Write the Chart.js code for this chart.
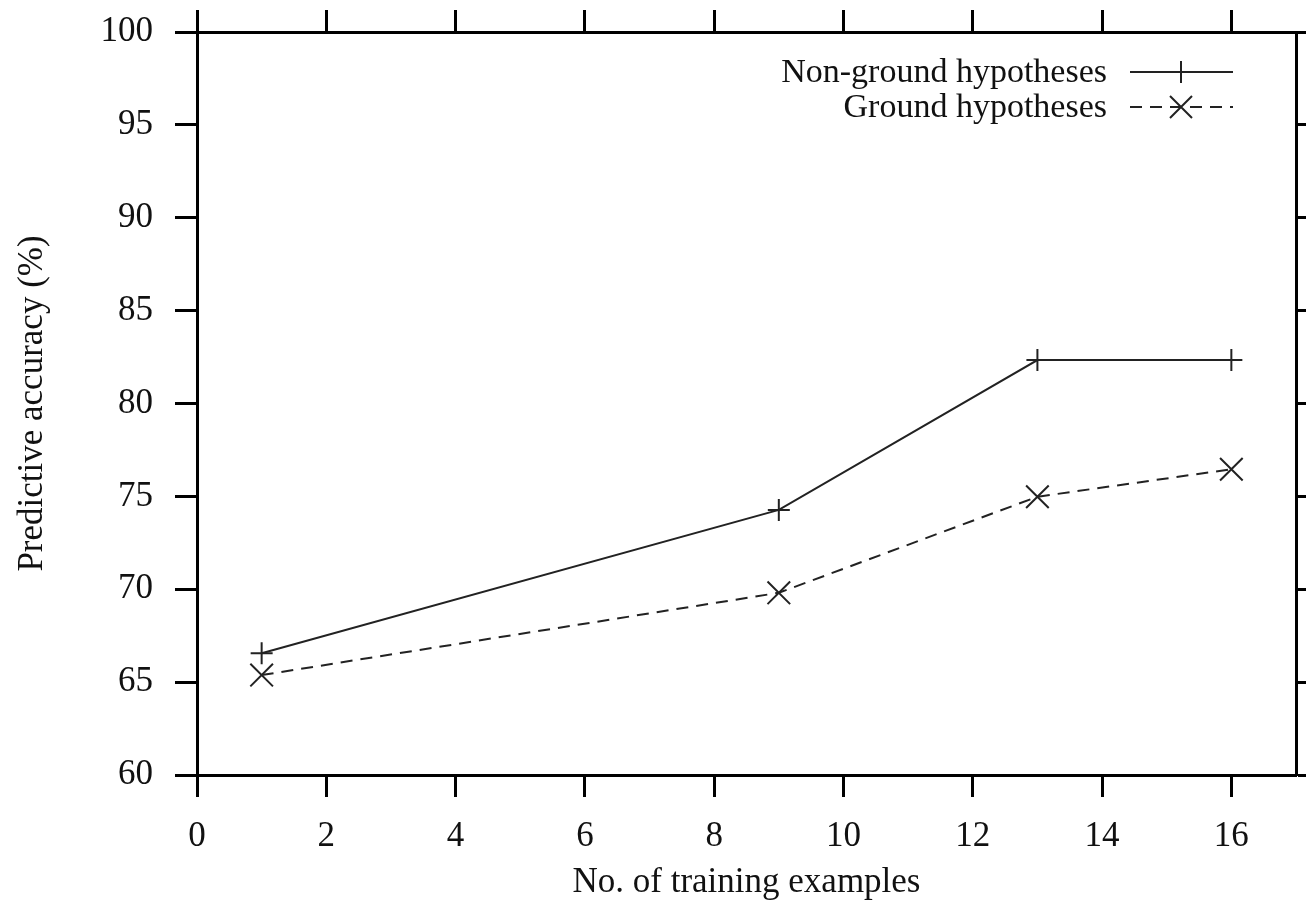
<!DOCTYPE html>
<html>
<head>
<meta charset="utf-8">
<script src="https://cdn.jsdelivr.net/npm/chart.js@4/dist/chart.umd.min.js"></script>
<style>
  html, body { margin: 0; padding: 0; background: #fff; }
  #wrap { width: 1306px; height: 908px; position: relative; }
</style>
</head>
<body>
<div id="wrap"><canvas id="accChart"></canvas></div>
<script>
// data
const trainingExamples = [1, 9, 13, 16];
const nonGroundAcc = [66.55, 74.27, 82.34, 82.34];
const groundAcc = [65.38, 69.81, 74.98, 76.46];
const seriesNames = ["Non-ground hypotheses", "Ground hypotheses"];
const xTicks = [0, 2, 4, 6, 8, 10, 12, 14, 16];
const yTicks = [60, 65, 70, 75, 80, 85, 90, 95, 100];

const FONT = "'Liberation Serif', 'DejaVu Serif', serif";
const INK = "#111";
const LINE = "#222";

function pts(xs, ys) {
  return xs.map((x, i) => ({ x: x, y: ys[i] }));
}

function fixTicks(list) {
  return function (scale) {
    scale.ticks = list.map(v => ({ value: v }));
  };
}

// pin the box size and drop the label overhang padding
function fixSize(w, h) {
  return function (scale) {
    if (w != null) scale.width = w;
    if (h != null) scale.height = h;
    scale.paddingTop = 0;
    scale.paddingBottom = 0;
    scale.paddingLeft = 0;
    scale.paddingRight = 0;
  };
}

// gnuplot style legend: text on the left, sample on the right
const sideLegend = {
  id: "sideLegend",
  afterDraw(chart) {
    const ctx = chart.ctx;
    const textRight = 1107, lineL = 1130, lineR = 1233, mid = 1181;
    const rows = [72, 107];
    ctx.save();
    ctx.font = "34px " + FONT;
    ctx.fillStyle = INK;
    ctx.textAlign = "right";
    ctx.textBaseline = "middle";
    chart.data.datasets.forEach((ds, i) => {
      const y = rows[i];
      ctx.fillText(ds.label, textRight, y + 1);
      ctx.strokeStyle = LINE;
      ctx.lineWidth = 2;
      ctx.setLineDash(ds.borderDash || []);
      ctx.beginPath();
      ctx.moveTo(lineL, y);
      ctx.lineTo(lineR, y);
      ctx.stroke();
      ctx.setLineDash([]);
      ctx.beginPath();
      if (ds.pointStyle === "cross") {
        ctx.moveTo(mid - 11, y); ctx.lineTo(mid + 11, y);
        ctx.moveTo(mid, y - 11); ctx.lineTo(mid, y + 11);
      } else {
        ctx.moveTo(mid - 11, y - 11); ctx.lineTo(mid + 11, y + 11);
        ctx.moveTo(mid - 11, y + 11); ctx.lineTo(mid + 11, y - 11);
      }
      ctx.stroke();
    });
    ctx.restore();
  }
};

const gridOpts = {
  drawOnChartArea: false,
  drawTicks: true,
  tickLength: 22,
  tickWidth: 3,
  tickColor: "#000"
};
const borderOpts = { display: true, color: "#000", width: 3 };

new Chart(document.getElementById("accChart"), {
  type: "line",
  data: {
    datasets: [
      {
        label: seriesNames[0],
        data: pts(trainingExamples, nonGroundAcc),
        borderColor: LINE,
        borderWidth: 2,
        pointStyle: "cross",
        pointRadius: 11,
        pointBorderWidth: 2,
        pointBorderColor: LINE,
        tension: 0
      },
      {
        label: seriesNames[1],
        data: pts(trainingExamples, groundAcc),
        borderColor: LINE,
        borderWidth: 2,
        borderDash: [12, 8],
        pointStyle: "crossRot",
        pointRadius: 16,
        pointBorderWidth: 2,
        pointBorderColor: LINE,
        tension: 0
      }
    ]
  },
  options: {
    responsive: true,
    maintainAspectRatio: false,
    animation: false,
    events: [],
    layout: { padding: 0, autoPadding: false },
    plugins: { legend: { display: false }, tooltip: { enabled: false } },
    scales: {
      x: {
        type: "linear",
        position: "bottom",
        min: 0,
        max: 17,
        afterBuildTicks: fixTicks(xTicks),
        afterFit: fixSize(null, 133),
        grid: gridOpts,
        border: borderOpts,
        ticks: {
          color: INK,
          font: { family: FONT, size: 35 },
          padding: 19,
          maxRotation: 0,
          autoSkip: false
        },
        title: {
          display: true,
          text: "No. of training examples",
          color: INK,
          font: { family: FONT, size: 35 },
          padding: { top: 5 }
        }
      },
      x2: {
        type: "linear",
        position: "top",
        min: 0,
        max: 17,
        afterBuildTicks: fixTicks(xTicks),
        afterFit: fixSize(null, 32),
        grid: gridOpts,
        border: borderOpts,
        ticks: { display: false }
      },
      y: {
        type: "linear",
        position: "left",
        min: 60,
        max: 100,
        afterBuildTicks: fixTicks(yTicks),
        afterFit: fixSize(197, null),
        grid: gridOpts,
        border: borderOpts,
        ticks: {
          color: INK,
          font: { family: FONT, size: 35 },
          padding: 22
        },
        title: {
          display: true,
          text: "Predictive accuracy (%)",
          color: INK,
          font: { family: FONT, size: 35 },
          padding: { top: 12 }
        }
      },
      y2: {
        type: "linear",
        position: "right",
        min: 60,
        max: 100,
        afterBuildTicks: fixTicks(yTicks),
        afterFit: fixSize(10, null),
        grid: gridOpts,
        border: borderOpts,
        ticks: { display: false }
      }
    }
  },
  plugins: [sideLegend]
});
</script>
</body>
</html>
